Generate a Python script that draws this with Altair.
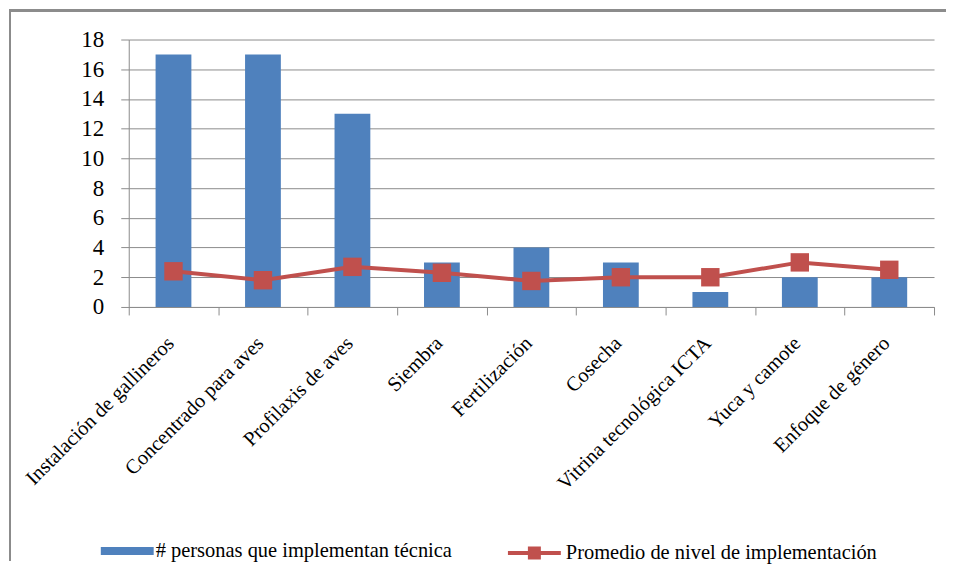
import altair as alt
import pandas as pd

categorias = [
    "Instalación de gallineros",
    "Concentrado para aves",
    "Profilaxis de aves",
    "Siembra",
    "Fertilización",
    "Cosecha",
    "Vitrina tecnológica ICTA",
    "Yuca y camote",
    "Enfoque de género",
]
personas = [17, 17, 13, 3, 4, 3, 1, 2, 2]
promedio = [2.4, 1.8, 2.7, 2.3, 1.75, 2.0, 2.0, 3.0, 2.5]
serie_barras = "# personas que implementan técnica"
serie_linea = "Promedio de nivel de implementación"
y_ticks = [0, 2, 4, 6, 8, 10, 12, 14, 16, 18]

df = pd.DataFrame({
    "cat": categorias,
    "personas": personas,
    "promedio": promedio,
    "s1": [serie_barras] * len(categorias),
    "s2": [serie_linea] * len(categorias),
})

FONT = "Liberation Serif, DejaVu Serif, serif"
BLUE = "#4F81BD"
RED = "#C0504D"
GRID = "#8c8c8c"

W, H = 807, 268

x_axis = alt.Axis(
    tickBand="extent",
    labelAngle=-45,
    labelAlign="right",
    labelBaseline="middle",
    labelFont=FONT,
    labelFontSize=20.5,
    labelPadding=25,
    labelOffset=-3,
    tickSize=8,
    grid=False,
    labelLimit=400,
    labelOverlap=False,
)
y_axis = alt.Axis(
    values=y_ticks,
    labelFont=FONT,
    labelFontSize=23,
    labelPadding=17,
    tickSize=8,
    grid=True,
    labelOverlap=False,
)

x_scale = alt.Scale(paddingInner=0, paddingOuter=0)
y_scale = alt.Scale(domain=[0, 18], nice=False)


def X():
    return alt.X("cat:N", sort=categorias, title=None, scale=x_scale, axis=x_axis)


def Y(field):
    return alt.Y(field, scale=y_scale, title=None, axis=y_axis)


bars = alt.Chart(df).mark_bar(width=alt.RelativeBandSize(0.4)).encode(
    x=X(),
    y=Y("personas:Q"),
    fill=alt.Fill(
        "s1:N",
        scale=alt.Scale(range=[BLUE]),
        legend=alt.Legend(
            title=None,
            orient="none",
            legendX=-28,
            legendY=486,
            symbolType="M-1,-0.15H1V0.15H-1Z",
            symbolSize=2809,
            symbolStrokeWidth=0,
            labelOffset=2,
        ),
    ),
)

line = alt.Chart(df).mark_line(strokeWidth=4).encode(
    x=X(),
    y=Y("promedio:Q"),
    stroke=alt.Stroke(
        "s2:N",
        scale=alt.Scale(range=[RED]),
        legend=alt.Legend(
            title=None,
            orient="none",
            legendX=378,
            legendY=486,
            symbolType="M-1,0H1M-0.17,-0.17H0.17V0.17H-0.17Z",
            symbolSize=2809,
            symbolStrokeWidth=4,
            symbolFillColor=RED,
            labelOffset=3,
        ),
    ),
)

points = alt.Chart(df).mark_point(shape="square", filled=True, size=340, opacity=1).encode(
    x=X(),
    y=Y("promedio:Q"),
    color=alt.value(RED),
)

frame_top = alt.Chart(df).mark_rule(color="#8c8c8c", strokeWidth=2).encode(
    x=alt.value(-120), x2=alt.value(819), y=alt.value(-29)
)
frame_left = alt.Chart(df).mark_rule(color="#8c8c8c", strokeWidth=2).encode(
    x=alt.value(-119), y=alt.value(-30), y2=alt.value(522)
)

chart = (
    alt.layer(frame_top, frame_left, bars, line, points)
    .properties(width=W, height=H, padding=0, background="white")
    .resolve_scale(fill="independent", stroke="independent")
    .configure(font=FONT)
    .configure_view(stroke=None)
    .configure_axis(
        labelFont=FONT,
        labelColor="#000000",
        tickColor=GRID,
        domainColor=GRID,
        gridColor=GRID,
        gridWidth=1,
    )
    .configure_legend(
        labelFont=FONT,
        labelFontSize=20.5,
        labelColor="#000000",
        labelLimit=400,
    )
)

chart.save("out.html", embed_options={"renderer": "svg", "actions": False})
